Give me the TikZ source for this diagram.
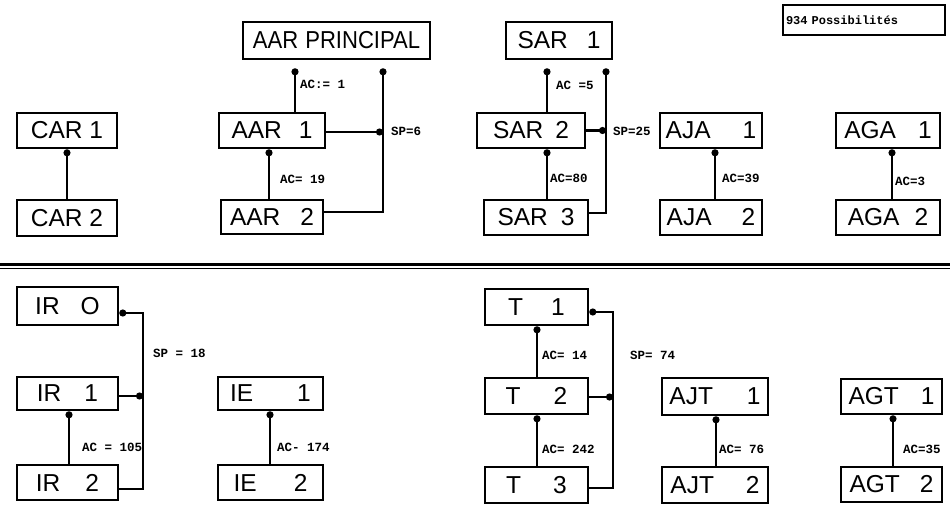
\documentclass[tikz,border=0pt]{standalone}
\usepackage{fontspec}
\newfontfamily\boxfont{Liberation Sans}
\newfontfamily\labfont{Liberation Mono}
\usetikzlibrary{arrows.meta}
\newcommand\bgap[1]{\hspace{#1pt}}
\begin{document}
\begin{tikzpicture}[x=1pt,y=-1pt,
  box/.style={draw, line width=2.6pt, inner sep=0pt, font=\boxfont\fontsize{24.5}{24.5}\selectfont},
  sz/.style n args={2}{minimum width=#1pt, minimum height=#2pt},
  lab/.style={anchor=west, inner sep=0pt, font=\labfont\bfseries\fontsize{12.5}{12.5}\selectfont},
  con/.style={line width=2.4pt, -{Circle[length=7pt,width=7pt]}},
  sep/.style={line width=#1},
]
\useasboundingbox (0,0) rectangle (950,505);

% ---------- top half ----------
\node[box, sz={100}{35}] (car1) at (67,130.5) {CAR 1};
\node[box, sz={100}{36}] (car2) at (67,218) {CAR 2};
\node[box, sz={187}{37}] (aarp) at (336.5,40.5) {\scalebox{0.9}[1]{AAR\bgap{8}PRINCIPAL}};
\node[box, sz={106}{35}] (aar1) at (272,130.5) {AAR\bgap{17}1};
\node[box, sz={102}{34}] (aar2) at (272,217) {AAR\bgap{20}2};
\node[box, sz={106}{37}] (sar1) at (559,40.5) {SAR\bgap{19}1};
\node[box, sz={108}{35}] (sar2) at (531,130.5) {SAR\bgap{12}2};
\node[box, sz={104}{35}] (sar3) at (536,217.5) {SAR\bgap{13}3};
\node[box, sz={102}{35}] (aja1) at (711,130.5) {AJA\bgap{32}1};
\node[box, sz={102}{35}] (aja2) at (711,217.5) {AJA\bgap{30}2};
\node[box, sz={104}{35}] (aga1) at (888,130.5) {AGA\bgap{22}1};
\node[box, sz={104}{35}] (aga2) at (888,217.5) {AGA\bgap{15}2};
\node[draw, line width=2.2pt, minimum height=30pt, text width=156pt, align=left, inner xsep=3pt, inner ysep=0pt,
      font=\labfont\bfseries\fontsize{12}{12}\selectfont] (poss) at (864,20) {934 Possibilités};

\coordinate (x67) at (67,0);
\coordinate (x295) at (295,0);
\coordinate (x269) at (269,0);
\coordinate (x383) at (383,0);
\coordinate (x547) at (547,0);
\coordinate (x606) at (606,0);
\coordinate (x715) at (715,0);
\coordinate (x892) at (892,0);

\draw[con, line width=1.8pt] (car2.north -| x67) -- (car1.south -| x67);
\draw[con, shorten >=8pt] (aar1.north -| x295) -- (aarp.south -| x295);
\draw[con] (aar2.north -| x269) -- (aar1.south -| x269);
\draw[con, shorten >=8pt] ([yshift=5pt]aar2.east) -- ([yshift=5pt]aar2.east -| x383) -- (aarp.south -| x383);
\draw[con] ([yshift=-1.5pt]aar1.east) -- ([yshift=-1.5pt]aar1.east -| x383);
\draw[con, shorten >=8pt] (sar2.north -| x547) -- (sar1.south -| x547);
\draw[con] (sar3.north -| x547) -- (sar2.south -| x547);
\draw[con, shorten >=8pt] ([yshift=4.5pt]sar3.east) -- ([yshift=4.5pt]sar3.east -| x606) -- (sar1.south -| x606);
\draw[con] (sar2.east) -- (sar2.east -| x606);
\draw[con] (aja2.north -| x715) -- (aja1.south -| x715);
\draw[con, line width=2pt] (aga2.north -| x892) -- (aga1.south -| x892);

\node[lab] (l1) at (300,84) {AC:= 1};
\node[lab] (l2) at (280,179) {AC= 19};
\node[lab] (l3) at (391,131) {SP=6};
\node[lab] (l4) at (556,85) {AC =5};
\node[lab] (l5) at (550,178) {AC=80};
\node[lab] (l6) at (613,131) {SP=25};
\node[lab] (l7) at (722,178) {AC=39};
\node[lab] (l8) at (895,181) {AC=3};

% ---------- separator ----------
\draw[sep=3pt] (0,264.5) -- (950,264.5);
\draw[sep=1.4pt] (0,268.3) -- (950,268.3);

% ---------- bottom half ----------
\node[box, sz={101}{38}] (ir0) at (67.5,306) {IR\bgap{21}O};
\node[box, sz={101}{33}] (ir1) at (67.5,393.5) {IR\bgap{23}1};
\node[box, sz={101}{35}] (ir2) at (67.5,482.5) {IR\bgap{25}2};
\node[box, sz={105}{33}] (ie1) at (270.5,393.5) {IE\bgap{44}1};
\node[box, sz={105}{35}] (ie2) at (270.5,482.5) {IE\bgap{37}2};
\node[box, sz={103}{36}] (t1) at (536.5,307) {T\bgap{28}1};
\node[box, sz={103}{36}] (t2) at (536.5,396) {T\bgap{33}2};
\node[box, sz={103}{36}] (t3) at (536.5,485) {T\bgap{32}3};
\node[box, sz={106}{37}] (ajt1) at (715,396.5) {AJT\bgap{34}1};
\node[box, sz={106}{36}] (ajt2) at (715,485) {AJT\bgap{32}2};
\node[box, sz={101}{35}] (agt1) at (891.5,396.5) {AGT\bgap{22}1};
\node[box, sz={101}{35}] (agt2) at (891.5,484.5) {AGT\bgap{20}2};

\coordinate (x69) at (69,0);
\coordinate (x143) at (143,0);
\coordinate (x270) at (270,0);
\coordinate (x537) at (537,0);
\coordinate (x613) at (613,0);
\coordinate (x716) at (716,0);
\coordinate (x893) at (893,0);

\draw[con] (ir2.north -| x69) -- (ir1.south -| x69);
\draw[con] ([yshift=-6.5pt]ir2.east) -- ([yshift=-6.5pt]ir2.east -| x143) -- ([yshift=-7pt]ir0.east -| x143) -- ([yshift=-7pt]ir0.east);
\draw[con] ([yshift=-2.5pt]ir1.east) -- ([yshift=-2.5pt]ir1.east -| x143);
\draw[con] (ie2.north -| x270) -- (ie1.south -| x270);
\draw[con] (t2.north -| x537) -- (t1.south -| x537);
\draw[con] (t3.north -| x537) -- (t2.south -| x537);
\draw[con] ([yshift=-3pt]t3.east) -- ([yshift=-3pt]t3.east -| x613) -- ([yshift=-5pt]t1.east -| x613) -- ([yshift=-5pt]t1.east);
\draw[con] ([yshift=-1pt]t2.east) -- ([yshift=-1pt]t2.east -| x613);
\draw[con] (ajt2.north -| x716) -- (ajt1.south -| x716);
\draw[con, line width=2pt] (agt2.north -| x893) -- (agt1.south -| x893);

\node[lab] (l9) at (153,353) {SP = 18};
\node[lab] (l10) at (82,447) {AC = 105};
\node[lab] (l11) at (277,447) {AC- 174};
\node[lab] (l12) at (542,355) {AC= 14};
\node[lab] (l13) at (630,355) {SP= 74};
\node[lab] (l14) at (542,449) {AC= 242};
\node[lab] (l15) at (719,449) {AC= 76};
\node[lab] (l16) at (903,449) {AC=35};
\end{tikzpicture}
\end{document}
